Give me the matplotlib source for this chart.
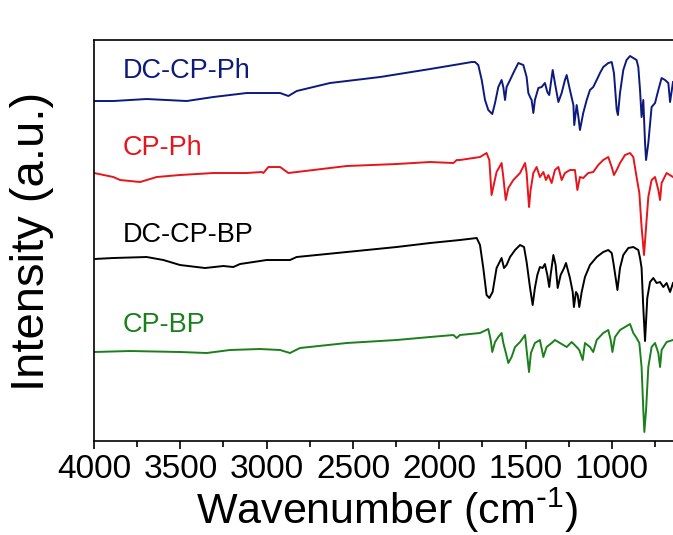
import matplotlib
matplotlib.use('Agg')
import matplotlib.pyplot as plt
from matplotlib.ticker import MultipleLocator

plt.rcParams['font.family'] = ['Liberation Sans', 'DejaVu Sans']
plt.rcParams['mathtext.default'] = 'regular'

# -----------------------------
# Spectra (wavenumber in cm-1, intensity in a.u. with offsets)
# -----------------------------
dc_cp_ph_wn = [4000, 3888, 3695, 3463, 3309, 3116, 2922, 2874, 2826, 2633, 2343, 2053,
               1880, 1812, 1793, 1774, 1754, 1735, 1716, 1693, 1677, 1658, 1639, 1629,
               1619, 1610, 1590, 1571, 1542, 1513, 1494, 1484, 1474, 1465, 1455, 1446,
               1426, 1407, 1388, 1374, 1363, 1343, 1330, 1310, 1291, 1272, 1262, 1243,
               1223, 1218, 1204, 1194, 1185, 1166, 1146, 1127, 1108, 1088, 1069, 1050,
               1021, 1001, 988, 972, 965, 953, 934, 915, 895, 876, 857, 847, 837, 828,
               818, 808, 802, 789, 770, 750, 731, 712, 692, 673, 663, 646]
dc_cp_ph_int = [340, 340, 342, 340, 344, 348, 348, 345, 350, 358, 364, 372,
                377, 379, 379, 376, 361, 341, 331, 327, 338, 354, 361, 354,
                341, 354, 361, 368, 378, 376, 364, 348, 344, 341, 328, 341,
                353, 354, 358, 349, 346, 371, 358, 339, 348, 361, 366, 351,
                336, 316, 336, 324, 311, 328, 341, 351, 354, 361, 368, 374,
                378, 379, 368, 331, 326, 348, 371, 381, 385, 383, 381, 374, 351, 324,
                341, 298, 281, 298, 334, 338, 351, 363, 361, 358, 339, 359]

cp_ph_wn = [4000, 3888, 3849, 3733, 3637, 3502, 3309, 3116, 3029, 3019, 2990, 2922,
            2874, 2826, 2536, 2247, 2053, 1918, 1899, 1880, 1764, 1726, 1710, 1697,
            1687, 1668, 1639, 1629, 1615, 1600, 1571, 1532, 1503, 1494, 1480, 1471,
            1455, 1436, 1417, 1397, 1382, 1368, 1349, 1330, 1310, 1291, 1272, 1243,
            1214, 1200, 1185, 1166, 1137, 1108, 1079, 1050, 1021, 1001, 988, 972,
            953, 924, 895, 876, 857, 841, 828, 814, 802, 789, 770, 750, 731, 721,
            712, 683, 646]
cp_ph_int = [268, 264, 261, 259, 264, 266, 268, 268, 269, 268, 274, 274,
             268, 269, 275, 277, 279, 278, 281, 281, 284, 288, 281, 246,
             254, 269, 278, 264, 241, 253, 261, 268, 278, 268, 234, 251,
             268, 274, 264, 269, 261, 266, 258, 271, 274, 261, 268, 271,
             271, 251, 264, 263, 268, 269, 276, 281, 284, 274, 266, 271,
             278, 286, 288, 284, 264, 248, 214, 186, 214, 244, 261, 264, 251, 241,
             258, 268, 264]

dc_cp_bp_wn = [4000, 3888, 3695, 3598, 3502, 3357, 3251, 3193, 3154, 3000, 2865, 2826,
               2536, 2247, 2053, 1880, 1783, 1764, 1745, 1726, 1710, 1691, 1668, 1639,
               1625, 1610, 1590, 1561, 1532, 1509, 1494, 1474, 1459, 1446, 1432, 1417,
               1401, 1388, 1374, 1363, 1355, 1339, 1326, 1314, 1297, 1277, 1266, 1243,
               1227, 1220, 1208, 1198, 1189, 1175, 1156, 1127, 1088, 1050, 1021, 1001,
               992, 978, 968, 953, 934, 905, 876, 847, 837, 828, 818, 808, 795, 779,
               760, 741, 721, 702, 683, 663, 646]
dc_cp_bp_int = [182, 183, 184, 181, 176, 173, 175, 174, 177, 181, 181, 184,
                189, 194, 198, 201, 203, 196, 173, 146, 143, 149, 173, 183,
                173, 176, 184, 191, 196, 194, 179, 153, 136, 153, 166, 174,
                173, 177, 166, 154, 166, 186, 176, 153, 166, 173, 178, 163,
                149, 134, 149, 146, 134, 149, 164, 176, 184, 189, 191, 188,
                179, 163, 151, 173, 186, 193, 194, 191, 183, 173, 133, 100, 143, 159,
                163, 158, 159, 154, 158, 149, 158]

cp_bp_wn = [4000, 3791, 3502, 3347, 3212, 3038, 2922, 2865, 2807, 2536, 2247, 2053,
            1918, 1899, 1880, 1764, 1716, 1702, 1693, 1677, 1658, 1639, 1629, 1614,
            1600, 1581, 1561, 1532, 1503, 1494, 1480, 1469, 1446, 1417, 1397, 1378,
            1349, 1330, 1301, 1262, 1233, 1204, 1189, 1169, 1156, 1127, 1108, 1088,
            1050, 1021, 1007, 997, 982, 953, 924, 895, 876, 857, 841, 828, 818, 812,
            802, 789, 770, 750, 731, 721, 712, 683, 646]
cp_bp_int = [89, 90, 89, 88, 91, 92, 91, 88, 93, 98, 101, 104,
             106, 103, 106, 108, 112, 101, 89, 99, 104, 108, 98, 88,
             78, 84, 94, 99, 106, 91, 69, 88, 98, 101, 84, 94,
             98, 101, 98, 94, 99, 94, 91, 81, 98, 94, 89, 101,
             108, 111, 101, 89, 104, 111, 114, 117, 108, 103, 98, 74, 31, 9,
             31, 74, 94, 98, 88, 74, 91, 99, 101]

labels = ['DC-CP-Ph', 'CP-Ph', 'DC-CP-BP', 'CP-BP']
colors = ['#0c1a7e', '#e8141b', '#000000', '#1b7f1b']
label_y = [363, 286, 199, 109]
label_x = 3832

xticks = [4000, 3500, 3000, 2500, 2000, 1500, 1000]

# -----------------------------
# Figure
# -----------------------------
fig = plt.figure(figsize=(6.73, 5.35), dpi=100)
ax = fig.add_axes([0.1397, 0.1757, 0.8603, 0.7495])

series = [(dc_cp_ph_wn, dc_cp_ph_int), (cp_ph_wn, cp_ph_int),
          (dc_cp_bp_wn, dc_cp_bp_int), (cp_bp_wn, cp_bp_int)]
for (wn, inten), c, lab, ly in zip(series, colors, labels, label_y):
    ax.plot(wn, inten, color=c, lw=1.4)
    ax.text(label_x, ly, lab, color=c, fontsize=19.5, ha='left', va='baseline')

ax.set_xlim(4000, 646)
ax.set_ylim(0, 401)
ax.set_xticks(xticks)
ax.set_xticklabels([str(t) for t in xticks])
ax.xaxis.set_minor_locator(MultipleLocator(250))
ax.set_yticks([])
ax.tick_params(axis='x', which='major', direction='out', length=6, width=1.2,
               labelsize=24, pad=3)
ax.tick_params(axis='x', which='minor', direction='out', length=4, width=1.2)
for s in ['left', 'top', 'bottom']:
    ax.spines[s].set_linewidth(1.2)
ax.spines['right'].set_visible(False)

fig.text(0.575, 0.047, r'Wavenumber (cm$^{\text{-}1}$)', fontsize=31,
         ha='center', va='center')
fig.text(0.047, 0.549, 'Intensity (a.u.)', fontsize=34, rotation=90,
         ha='center', va='center')

fig.savefig('out.png', dpi=100)
